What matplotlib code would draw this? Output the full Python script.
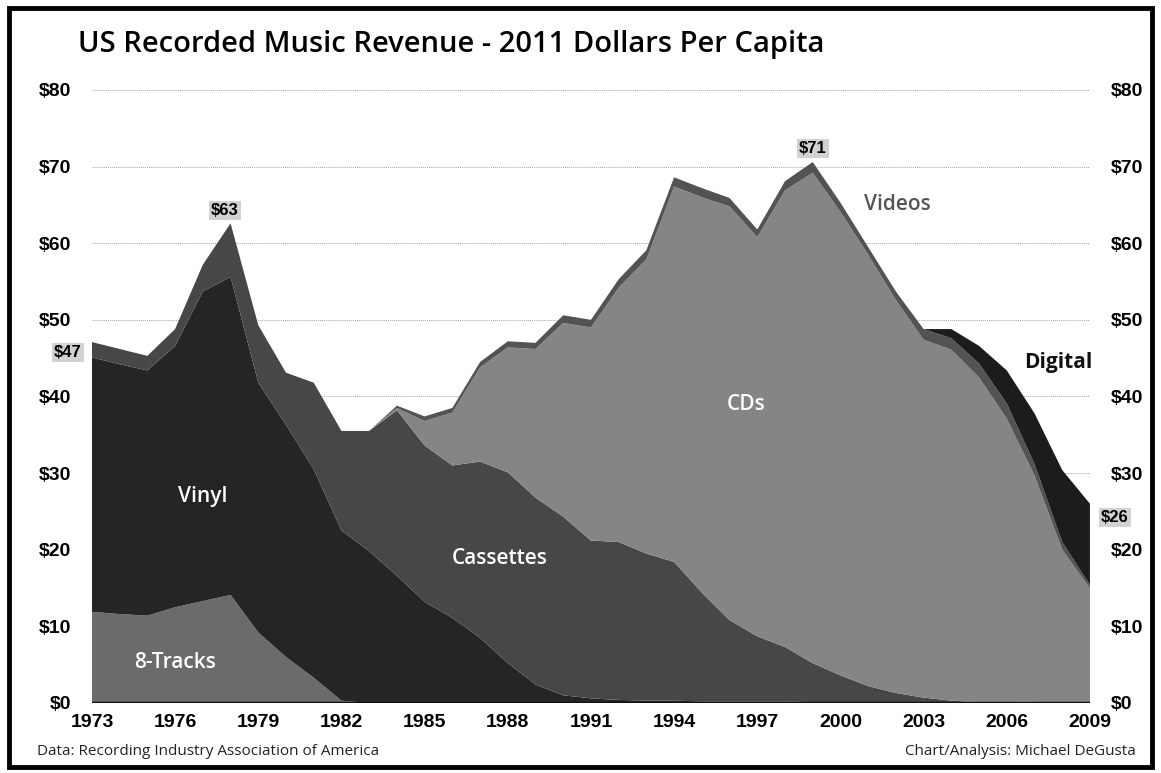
import matplotlib.pyplot as plt
from matplotlib.patches import Rectangle

years = list(range(1973, 2010))

# per capita revenue, 2011 dollars
eight_tracks = [11.9, 11.6, 11.4, 12.5, 13.3, 14.1, 9.2, 6.0, 3.3, 0.3,
                0, 0, 0, 0, 0, 0, 0, 0, 0, 0, 0, 0, 0, 0, 0, 0, 0, 0, 0, 0,
                0, 0, 0, 0, 0, 0, 0]
vinyl = [33.2, 32.6, 32.0, 34.1, 40.4, 41.5, 32.6, 30.3, 27.2, 22.2,
         19.8, 16.6, 13.2, 11.1, 8.5, 5.2, 2.4, 1.0, 0.6, 0.4,
         0.3, 0.3, 0.2, 0.2, 0.2, 0.2, 0.1, 0.1, 0.1, 0.1,
         0.1, 0.1, 0.1, 0.1, 0.2, 0.2, 0.2]
cassettes = [2.0, 2.0, 1.9, 2.2, 3.5, 7.0, 7.5, 6.8, 11.3, 13.0,
             15.7, 21.6, 20.4, 19.9, 23.0, 24.9, 24.4, 23.3, 20.6, 20.6,
             19.2, 18.1, 14.2, 10.6, 8.5, 7.1, 5.1, 3.5, 2.1, 1.2,
             0.6, 0.2, 0, 0, 0, 0, 0]
cds = [0, 0, 0, 0, 0, 0, 0, 0, 0, 0,
       0, 0.3, 3.2, 6.9, 12.3, 16.3, 19.4, 25.3, 27.8, 33.2,
       38.4, 49.0, 51.6, 54.0, 52.1, 59.6, 64.0, 60.5, 56.3, 51.3,
       46.7, 45.8, 42.4, 37.0, 29.5, 19.8, 14.8]
videos = [0, 0, 0, 0, 0, 0, 0, 0, 0, 0,
          0, 0.3, 0.6, 0.6, 0.7, 0.8, 0.8, 1.0, 1.0, 1.1,
          1.2, 1.2, 1.2, 1.1, 1.0, 1.2, 1.4, 1.2, 1.0, 1.1,
          1.4, 1.5, 1.8, 2.0, 1.5, 1.0, 0.4]
digital = [0, 0, 0, 0, 0, 0, 0, 0, 0, 0,
           0, 0, 0, 0, 0, 0, 0, 0, 0, 0,
           0, 0, 0, 0, 0, 0, 0, 0, 0, 0,
           0, 1.2, 2.3, 4.3, 6.6, 9.4, 10.6]

layer_colors = ["#6b6b6b", "#252525", "#474747", "#858585", "#535353", "#1c1c1c"]

year_ticks = list(range(1973, 2010, 3))
dollar_ticks = list(range(0, 90, 10))

fig = plt.figure(figsize=(11.61, 7.73), dpi=100)
ax = fig.add_axes([0.0792, 0.0906, 0.8596, 0.793])

ax.stackplot(years, eight_tracks, vinyl, cassettes, cds, videos, digital,
             colors=layer_colors, linewidth=0)
ax.axhline(0, color="#111111", linewidth=2.5, zorder=3)

ax.set_xlim(1973, 2009)
ax.set_ylim(0, 80)
ax.set_axisbelow(True)
ax.yaxis.grid(True, color="#a5a5a5", linestyle=(0, (1, 1)), linewidth=0.7)
for s in ax.spines.values():
    s.set_visible(False)

ax.set_xticks(year_ticks)
ax.set_xticklabels([str(y) for y in year_ticks], fontfamily="Liberation Sans",
                   fontweight="bold", fontsize=14)
ax.set_yticks(dollar_ticks)
ax.set_yticklabels([f"${d}" for d in dollar_ticks], fontfamily="Liberation Sans",
                   fontweight="bold", fontsize=14)
ax.tick_params(axis="x", length=0, pad=8)
ax.tick_params(axis="y", length=0, pad=15, labelleft=True, labelright=True)

# layer names
label_style = dict(fontsize=15, family="Open Sans", fontweight="semibold",
                   ha="center", va="center")
ax.text(1977.0, 27.0, "Vinyl", color="white", **label_style)
ax.text(1976.0, 5.3, "8-Tracks", color="white", **label_style)
ax.text(1987.7, 18.9, "Cassettes", color="white", **label_style)
ax.text(1996.6, 39.0, "CDs", color="white", **label_style)
ax.text(2002.05, 65.1, "Videos", color="#555555", **label_style)
ax.text(2007.85, 44.4, "Digital", color="#111111", fontsize=15, family="Open Sans",
        fontweight="bold", ha="center", va="center")

# value callouts
box = dict(facecolor="#d2d2d2", edgecolor="none", pad=1.5)
for x, y, s in [(1972.13, 45.8, "$47"), (1977.8, 64.3, "$63"),
                (1999.0, 72.3, "$71"), (2009.9, 24.2, "$26")]:
    ax.text(x, y, s, fontsize=12, fontfamily="Liberation Sans", fontweight="bold",
            ha="center", va="center", bbox=box, clip_on=False, zorder=5)

fig.text(0.067, 0.943, "US Recorded Music Revenue - 2011 Dollars Per Capita",
         fontsize=21, family="Open Sans", fontweight="semibold", ha="left", va="center")
fig.text(0.032, 0.028, "Data: Recording Industry Association of America",
         fontsize=11, family="Open Sans", color="#222222", ha="left", va="center")
fig.text(0.978, 0.028, "Chart/Analysis: Michael DeGusta",
         fontsize=11, family="Open Sans", color="#222222", ha="right", va="center")

fig.patches.append(Rectangle((0.008, 0.008), 0.984, 0.982, transform=fig.transFigure,
                             fill=False, edgecolor="black", linewidth=3.5))

fig.savefig("out.png", dpi=100)
